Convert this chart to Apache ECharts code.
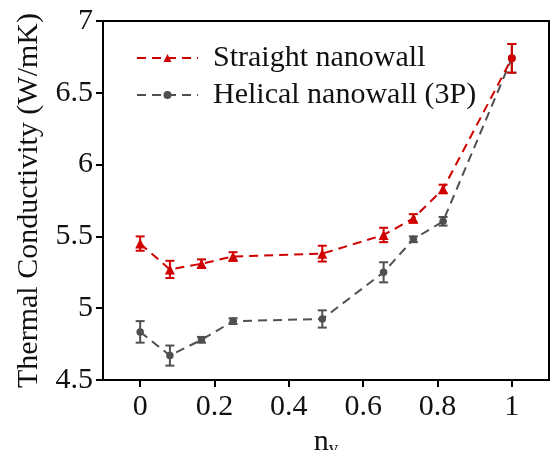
<!DOCTYPE html>
<html><head><meta charset="utf-8">
<script src="https://cdn.jsdelivr.net/npm/echarts@6/dist/echarts.min.js"></script>
<style>html,body{margin:0;padding:0;background:#fff}#c{width:553px;height:450px}</style>
</head><body><div id="c"></div>
<script>
const nv = [0, 0.08, 0.165, 0.25, 0.49, 0.655, 0.735, 0.815, 1];
const straightK = [5.45, 5.27, 5.31, 5.36, 5.38, 5.51, 5.625, 5.83, 6.74];
const straightErr = [0.05, 0.06, 0.03, 0.03, 0.055, 0.05, 0.03, 0.03, 0.1];
const helicalK = [4.835, 4.67, 4.78, 4.91, 4.925, 5.25, 5.48, 5.605, 6.74];
const helicalErr = [0.075, 0.07, 0.02, 0.02, 0.06, 0.07, 0.02, 0.03, 0.1];
const xTicks = [0, 0.2, 0.4, 0.6, 0.8, 1];
const seriesNames = ['Straight nanowall', 'Helical nanowall (3P)'];
const yTitle = 'Thermal Conductivity (W/mK)';

const RED = '#d10000', GRAY = '#505050';
const FONT = 'Liberation Serif';
const FS = 30;

function errSeries(name, xs, ys, es, color) {
  return {
    type: 'custom', name: name, silent: true, z: 3,
    data: xs.map((x, i) => [x, ys[i] - es[i], ys[i] + es[i]]),
    encode: { x: 0, y: [1, 2] },
    renderItem: function (params, api) {
      const lo = api.coord([api.value(0), api.value(1)]);
      const hi = api.coord([api.value(0), api.value(2)]);
      const w = 4.5;
      const st = { stroke: color, lineWidth: 2, fill: null };
      return { type: 'group', children: [
        { type: 'line', shape: { x1: lo[0], y1: lo[1], x2: hi[0], y2: hi[1] }, style: st },
        { type: 'line', shape: { x1: lo[0] - w, y1: lo[1], x2: lo[0] + w, y2: lo[1] }, style: st },
        { type: 'line', shape: { x1: hi[0] - w, y1: hi[1], x2: hi[0] + w, y2: hi[1] }, style: st }
      ]};
    }
  };
}

const straightData = nv.map((x, i) => [x, straightK[i]]);
straightData[straightData.length - 1] = { value: straightData[straightData.length - 1], symbol: 'circle', symbolSize: 8 };
const helicalData = nv.map((x, i) => [x, helicalK[i]]);

const chart = echarts.init(document.getElementById('c'), null, { renderer: 'canvas' });
chart.setOption({
  animation: false,
  backgroundColor: '#fff',
  textStyle: { fontFamily: FONT },
  grid: { left: 103, right: 4, top: 21, bottom: 70, show: true, borderColor: '#000', borderWidth: 2, outerBoundsMode: 'none', containLabel: false },
  legend: {
    data: seriesNames,
    orient: 'vertical', left: 136, top: 43, padding: 0,
    itemWidth: 61, itemHeight: 10, itemGap: 7,
    textStyle: { fontFamily: FONT, fontSize: FS, color: '#111', lineHeight: 30, padding: [0, 0, 0, 10] }
  },
  xAxis: {
    type: 'value', min: -0.1, max: 1.1,
    name: '{n|n}{s|v}', nameLocation: 'middle', nameGap: 37,
    nameTextStyle: { rich: { n: { fontFamily: FONT, fontSize: FS, color: '#111' }, s: { fontFamily: FONT, fontSize: 19, color: '#111', verticalAlign: 'bottom', padding: [15, 0, 0, 0] } } },
    axisLine: { onZero: false, lineStyle: { color: '#000', width: 2 } },
    axisTick: { customValues: xTicks, inside: false, length: 7, lineStyle: { color: '#000', width: 2 } },
    axisLabel: { customValues: xTicks, margin: 12, fontFamily: FONT, fontSize: FS, color: '#111' },
    splitLine: { show: false }
  },
  yAxis: {
    type: 'value', min: 4.5, max: 7, interval: 0.5,
    name: yTitle, nameLocation: 'middle', nameGap: 54, nameRotate: 90,
    nameTextStyle: { fontFamily: FONT, fontSize: FS, color: '#111' },
    axisLine: { show: true, onZero: false, lineStyle: { color: '#000', width: 2 } },
    axisTick: { show: true, inside: false, length: 7, lineStyle: { color: '#000', width: 2 } },
    axisLabel: { margin: 10, fontFamily: FONT, fontSize: FS, color: '#111' },
    splitLine: { show: false }
  },
  series: [
    { name: seriesNames[1], type: 'line', data: helicalData, symbol: 'circle', symbolSize: 7.5,
      itemStyle: { color: GRAY }, lineStyle: { color: GRAY, width: 2, type: [9, 6] }, z: 2 },
    errSeries('errH', nv, helicalK, helicalErr, GRAY),
    { name: seriesNames[0], type: 'line', data: straightData, symbol: 'triangle', symbolSize: 10,
      itemStyle: { color: RED }, lineStyle: { color: RED, width: 2, type: [9, 6] }, z: 4 },
    errSeries('errS', nv, straightK, straightErr, RED)
  ]
});
</script></body></html>
